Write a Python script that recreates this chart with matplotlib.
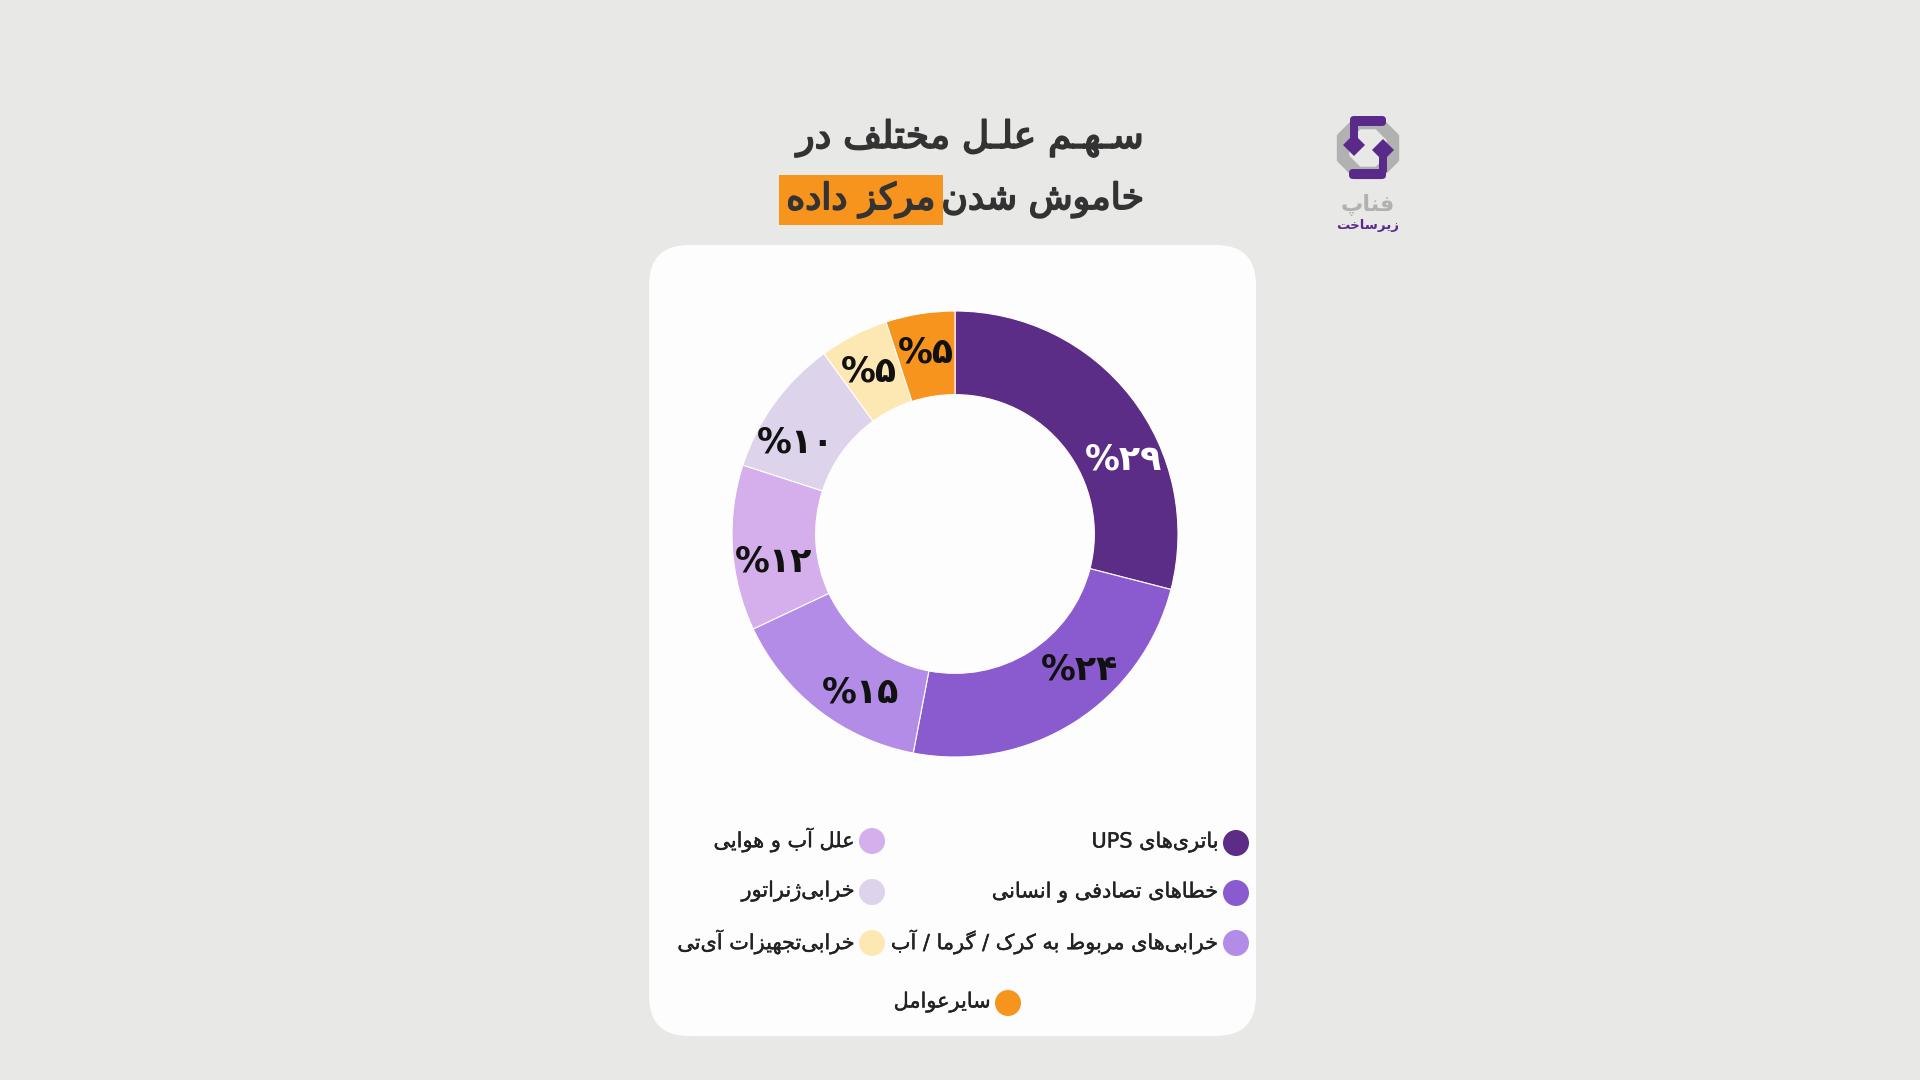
#!/usr/bin/env python3
"""Donut chart: share of causes of data center outages (Persian labels)."""

import matplotlib
matplotlib.use("Agg")

import matplotlib.pyplot as plt  # noqa: E402
import matplotlib.patheffects as pe  # noqa: E402
import numpy as np  # noqa: E402
from matplotlib.patches import FancyBboxPatch, Circle, RegularPolygon, Rectangle  # noqa: E402

# ---- data -------------------------------------------------------------
CATEGORIES = [
    "باتری‌های UPS",
    "خطاهای تصادفی و انسانی",
    "خرابی‌های مربوط به کرک / گرما / آب",
    "علل آب و هوایی",
    "خرابی‌ژنراتور",
    "خرابی‌تجهیزات آی‌تی",
    "سایرعوامل",
]
SHARES = [29, 24, 15, 12, 10, 5, 5]
COLORS = ["#5b2d86", "#8a5bcf", "#b28ce6", "#d5aeec", "#ddd3ea", "#fde8b4", "#f7941d"]
LABEL_COLORS = ["white", "#111111", "#111111", "#111111", "#111111", "#111111", "#111111"]
# the source nudges some labels away from the wedge middle (degrees, ccw +)
LABEL_SHIFT = [-14, 10, 7, 5, 6, 1, 0]

TITLE_LINE1 = "سـهـم علـل مختلف در"
TITLE_LINE2 = "خاموش شدن"
TITLE_HIGHLIGHT = "مرکز داده"

BG = "#e8e8e6"
CARD = "#fdfdfd"
ORANGE = "#f7941d"
TEXT = "#333333"
LOGO_PURPLE = "#5a2a8a"
LOGO_GRAY = "#b1b1b1"

# ---- minimal Persian shaping (matplotlib has no shaping / bidi) -------
# char: (isolated, final, initial, medial); right-joining letters have 2 forms
FORMS = {
    "ا": (0xFE8D, 0xFE8E), "آ": (0xFE81, 0xFE82),
    "ب": (0xFE8F, 0xFE90, 0xFE91, 0xFE92), "پ": (0xFB56, 0xFB57, 0xFB58, 0xFB59),
    "ت": (0xFE95, 0xFE96, 0xFE97, 0xFE98), "ث": (0xFE99, 0xFE9A, 0xFE9B, 0xFE9C),
    "ج": (0xFE9D, 0xFE9E, 0xFE9F, 0xFEA0), "چ": (0xFB7A, 0xFB7B, 0xFB7C, 0xFB7D),
    "ح": (0xFEA1, 0xFEA2, 0xFEA3, 0xFEA4), "خ": (0xFEA5, 0xFEA6, 0xFEA7, 0xFEA8),
    "د": (0xFEA9, 0xFEAA), "ذ": (0xFEAB, 0xFEAC), "ر": (0xFEAD, 0xFEAE),
    "ز": (0xFEAF, 0xFEB0), "ژ": (0xFB8A, 0xFB8B),
    "س": (0xFEB1, 0xFEB2, 0xFEB3, 0xFEB4), "ش": (0xFEB5, 0xFEB6, 0xFEB7, 0xFEB8),
    "ص": (0xFEB9, 0xFEBA, 0xFEBB, 0xFEBC), "ض": (0xFEBD, 0xFEBE, 0xFEBF, 0xFEC0),
    "ط": (0xFEC1, 0xFEC2, 0xFEC3, 0xFEC4), "ظ": (0xFEC5, 0xFEC6, 0xFEC7, 0xFEC8),
    "ع": (0xFEC9, 0xFECA, 0xFECB, 0xFECC), "غ": (0xFECD, 0xFECE, 0xFECF, 0xFED0),
    "ف": (0xFED1, 0xFED2, 0xFED3, 0xFED4), "ق": (0xFED5, 0xFED6, 0xFED7, 0xFED8),
    "ک": (0xFB8E, 0xFB8F, 0xFB90, 0xFB91), "گ": (0xFB92, 0xFB93, 0xFB94, 0xFB95),
    "ل": (0xFEDD, 0xFEDE, 0xFEDF, 0xFEE0), "م": (0xFEE1, 0xFEE2, 0xFEE3, 0xFEE4),
    "ن": (0xFEE5, 0xFEE6, 0xFEE7, 0xFEE8), "ه": (0xFEE9, 0xFEEA, 0xFEEB, 0xFEEC),
    "و": (0xFEED, 0xFEEE), "ی": (0xFBFC, 0xFBFD, 0xFBFE, 0xFBFF),
}
TATWEEL = "\u0640"
ZWNJ = "\u200c"
FA_DIGITS = "۰۱۲۳۴۵۶۷۸۹"


def joins_next(ch):
    return ch == TATWEEL or (ch in FORMS and len(FORMS[ch]) == 4)


def joins_prev(ch):
    return ch == TATWEEL or ch in FORMS


def shape(text):
    out = []
    for i, ch in enumerate(text):
        if ch == ZWNJ:
            continue
        if ch not in FORMS:
            out.append(ch)
            continue
        prev = text[i - 1] if i > 0 else ""
        nxt = text[i + 1] if i + 1 < len(text) else ""
        p = joins_next(prev)
        n = len(FORMS[ch]) == 4 and joins_prev(nxt)
        forms = FORMS[ch]
        if p and n:
            code = forms[3]
        elif p:
            code = forms[1]
        elif n:
            code = forms[2]
        else:
            code = forms[0]
        out.append(chr(code))
    return "".join(out)


def is_ltr(ch):
    return ch.isascii() and ch.isalnum() or ch in FA_DIGITS


def fa(text):
    """Shape and reorder an RTL string into visual left-to-right order."""
    s = shape(text)
    runs, cur, cur_ltr = [], "", None
    for ch in s:
        l = is_ltr(ch)
        if cur and l != cur_ltr:
            runs.append((cur, cur_ltr))
            cur = ""
        cur += ch
        cur_ltr = l
    if cur:
        runs.append((cur, cur_ltr))
    return "".join(r if l else r[::-1] for r, l in reversed(runs))


def fa_num(v):
    return "".join(FA_DIGITS[int(d)] for d in str(v))


def thick(color, lw):
    # DejaVu has no medium weight; a thin stroke fakes one
    return [pe.withStroke(linewidth=lw, foreground=color)]


# ---- figure -----------------------------------------------------------
plt.rcParams["font.family"] = ["DejaVu Sans"]

W, H = 1920, 1080
fig = plt.figure(figsize=(W / 100, H / 100), dpi=100, facecolor=BG)
bg = fig.add_axes([0, 0, 1, 1])
bg.set_xlim(0, W)
bg.set_ylim(H, 0)
bg.axis("off")

# card
bg.add_patch(FancyBboxPatch((649, 245), 607, 791,
                            boxstyle="round,pad=0,rounding_size=40",
                            facecolor=CARD, edgecolor="none"))

# title
bg.text(1144, 138, fa(TITLE_LINE1), ha="right", va="center",
        fontsize=27, color=TEXT, path_effects=thick(TEXT, 1.3))
t2 = bg.text(1144, 200, fa(TITLE_LINE2), ha="right", va="center",
             fontsize=26, color=TEXT, path_effects=thick(TEXT, 1.3))
bg.annotate(fa(TITLE_HIGHLIGHT), xy=(0, 0.5), xycoords=t2,
            xytext=(-4, 0), textcoords="offset points",
            ha="right", va="center", fontsize=26, color=TEXT,
            path_effects=thick(TEXT, 1.3),
            bbox=dict(boxstyle="square,pad=0.2", facecolor=ORANGE, edgecolor="none"))

# logo (rough sketch of the emblem)
lx, ly = 1368, 148
bg.add_patch(RegularPolygon((lx, ly), 8, radius=27, orientation=np.pi / 8,
                            facecolor="none", edgecolor=LOGO_GRAY, linewidth=9))
bg.add_patch(FancyBboxPatch((1350, 116), 36, 10, boxstyle="round,pad=0,rounding_size=4",
                            facecolor=LOGO_PURPLE, edgecolor="none"))
bg.add_patch(FancyBboxPatch((1349, 169), 37, 10, boxstyle="round,pad=0,rounding_size=4",
                            facecolor=LOGO_PURPLE, edgecolor="none"))
bg.add_patch(Rectangle((1350, 120), 8, 20, facecolor=LOGO_PURPLE, edgecolor="none"))
bg.add_patch(Rectangle((1379, 152), 8, 20, facecolor=LOGO_PURPLE, edgecolor="none"))
bg.add_patch(RegularPolygon((1354, 145), 4, radius=11, facecolor=LOGO_PURPLE))
bg.add_patch(RegularPolygon((1383, 150), 4, radius=11, facecolor=LOGO_PURPLE))
bg.text(lx, 205, fa("فناپ"), ha="center", va="center", fontsize=16,
        color=LOGO_GRAY, fontweight="bold")
bg.text(lx, 226, fa("زیرساخت"), ha="center", va="center", fontsize=9.5,
        color=LOGO_PURPLE, fontweight="bold")

# donut
cx, cy, R = 955, 534, 223
ax = fig.add_axes([(cx - R) / W, (H - cy - R) / H, 2 * R / W, 2 * R / H])
wedges, _ = ax.pie(SHARES, colors=COLORS, startangle=90, counterclock=False,
                   radius=1, wedgeprops=dict(width=0.375, edgecolor="white",
                                             linewidth=0.8))
ax.set_xlim(-1, 1)
ax.set_ylim(-1, 1)
ax.axis("off")

for w, v, c, shift in zip(wedges, SHARES, LABEL_COLORS, LABEL_SHIFT):
    ang = np.deg2rad((w.theta1 + w.theta2) / 2 + shift)
    r = 0.825
    ax.text(r * np.cos(ang), r * np.sin(ang), "%" + fa_num(v),
            ha="center", va="center", fontsize=25, fontweight="bold", color=c)

# legend: right column, left column, then last item centred
legend_pos = [
    (1236, 843), (1236, 893), (1236, 943),
    (872, 841), (872, 892), (872, 943),
    (1008, 1003),
]
for (x, y), name, col in zip(legend_pos, CATEGORIES, COLORS):
    bg.add_patch(Circle((x, y), 13, facecolor=col, edgecolor="none"))
    bg.text(x - 17, y - 1, fa(name), ha="right", va="center",
            fontsize=15, color="#222222", path_effects=thick("#222222", 0.3))

fig.savefig("out.png", dpi=100, facecolor=BG)
